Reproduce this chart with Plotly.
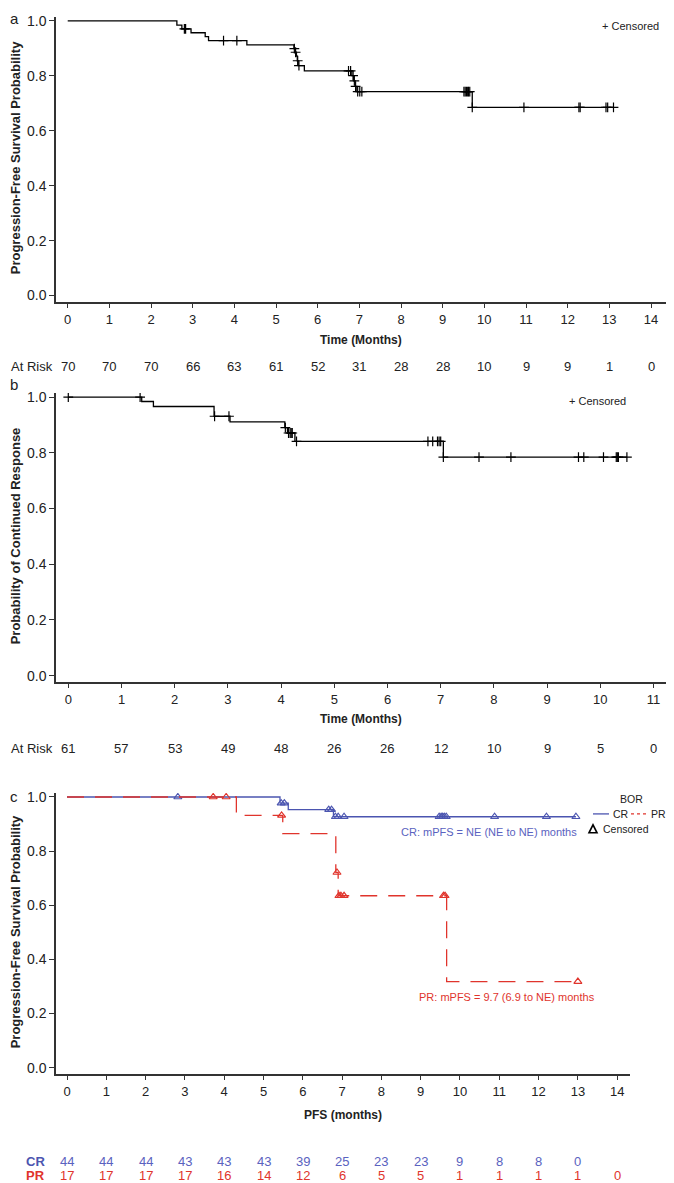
import plotly.graph_objects as go

W, H = 674, 1183
FONT = 'Liberation Sans, Arial, sans-serif'
INK = '#222222'
BLUE = '#4b55b0'
BLUE_TXT = '#5a62c0'
RED = '#e0342c'

# ---- panel a: progression-free survival ----
a_event_t = [2.62, 2.74, 2.96, 3.30, 3.38, 4.30, 5.43, 5.46, 5.49, 5.51, 5.53, 5.68,
             6.82, 6.86, 6.90, 6.94, 9.71]
a_event_s = [0.985, 0.971, 0.957, 0.943, 0.928, 0.913, 0.899, 0.886, 0.872, 0.855, 0.837, 0.818,
             0.801, 0.782, 0.762, 0.743, 0.685]
a_cens_t = [2.80, 2.83, 3.74, 4.06, 5.44, 5.47, 5.52, 5.55, 6.74, 6.79, 6.85, 6.88, 6.91,
            6.96, 7.01, 7.06, 9.51, 9.54, 9.57, 9.60, 9.62, 9.65, 9.71, 10.95, 12.27, 12.30,
            12.92, 12.96, 13.10]
a_end = 13.10
a_months = list(range(15))
a_risk = [70, 70, 70, 66, 63, 61, 52, 31, 28, 28, 10, 9, 9, 1, 0]

# ---- panel b: duration of response ----
b_event_t = [1.38, 1.60, 2.74, 3.04, 4.07, 4.12, 4.26, 7.05]
b_event_s = [0.984, 0.966, 0.931, 0.911, 0.890, 0.871, 0.841, 0.784]
b_cens_t = [0.0, 1.35, 2.75, 3.02, 4.08, 4.14, 4.17, 4.19, 4.21, 4.29, 6.76, 6.85, 6.94,
            6.97, 7.00, 7.05, 7.72, 8.32, 9.59, 9.69, 10.06, 10.30, 10.32, 10.34, 10.50]
b_end = 10.50
b_months = list(range(12))
b_risk = [61, 57, 53, 49, 48, 26, 26, 12, 10, 9, 5, 0]

# ---- panel c: PFS by best overall response ----
cr_event_t = [5.42, 5.63, 6.78]
cr_event_s = [0.977, 0.953, 0.927]
cr_cens_t = [2.82, 5.45, 5.53, 6.66, 6.73, 6.83, 6.90, 7.05, 9.47, 9.52, 9.56, 9.60, 9.65,
             10.88, 12.20, 12.95]
cr_end = 12.95
pr_event_t = [4.31, 5.49, 6.84, 6.90, 9.66]
pr_event_s = [0.932, 0.865, 0.721, 0.635, 0.318]
pr_cens_t = [3.72, 4.05, 5.46, 6.87, 6.92, 6.97, 7.05, 9.58, 9.62, 13.0]
pr_end = 13.0
c_months = list(range(15))
cr_risk = [44, 44, 44, 43, 43, 43, 39, 25, 23, 23, 9, 8, 8, 0]
pr_risk = [17, 17, 17, 17, 16, 14, 12, 6, 5, 5, 1, 1, 1, 1, 0]


def km_path(ev_t, ev_s, end):
    return [0] + ev_t + [end], [1.0] + ev_s + [ev_s[-1]]


def surv_at(t, ev_t, ev_s):
    s = 1.0
    for et, es in zip(ev_t, ev_s):
        if et <= t:
            s = es
    return s


def px(x):
    return x / W


def py(y):
    return 1 - y / H


fig = go.Figure()

def add_km(ev_t, ev_s, cens, end, xa, ya, color, dash='solid', symbol='cross-thin', size=7):
    xs, ys = km_path(ev_t, ev_s, end)
    fig.add_trace(go.Scatter(x=xs, y=ys, mode='lines', line_shape='hv',
                             line=dict(color=color, width=1.3, dash=dash),
                             xaxis=xa, yaxis=ya, hoverinfo='skip'))
    fig.add_trace(go.Scatter(x=cens, y=[surv_at(t, ev_t, ev_s) for t in cens], mode='markers',
                             marker=dict(symbol=symbol, size=size, color=color,
                                         line=dict(color=color, width=1.2)),
                             xaxis=xa, yaxis=ya, hoverinfo='skip'))

add_km(a_event_t, a_event_s, a_cens_t, a_end, 'x', 'y', 'black')
add_km(b_event_t, b_event_s, b_cens_t, b_end, 'x2', 'y2', 'black')
add_km(cr_event_t, cr_event_s, cr_cens_t, cr_end, 'x3', 'y3', BLUE, symbol='triangle-up-open', size=7)
add_km(pr_event_t, pr_event_s, pr_cens_t, pr_end, 'x3', 'y3', RED, dash='17px,11px',
       symbol='triangle-up-open', size=7)

axis_common = dict(showline=True, linecolor='#333333', linewidth=1.5, ticks='outside',
                   ticklen=5, tickwidth=1.2, tickcolor='#333333', showgrid=False, zeroline=False)
xfont = dict(tickfont=dict(family=FONT, size=13, color=INK))
yfont = dict(tickfont=dict(family=FONT, size=14, color=INK),
             tickvals=[0, 0.2, 0.4, 0.6, 0.8, 1.0], tickformat='.1f')

fig.update_layout(
    width=W, height=H, margin=dict(l=0, r=0, t=0, b=0),
    paper_bgcolor='white', plot_bgcolor='white', showlegend=False,
    xaxis=dict(domain=[px(48), px(658)], range=[-0.281, 14.36], anchor='y',
               tickvals=a_months, **xfont, **axis_common),
    yaxis=dict(domain=[py(291), py(5)], range=[-0.0217, 1.0145], anchor='x',
               **yfont, **axis_common),
    xaxis2=dict(domain=[px(48), px(658)], range=[-0.231, 11.235], anchor='y2',
                tickvals=b_months, **xfont, **axis_common),
    yaxis2=dict(domain=[py(673), py(383)], range=[-0.0214, 1.0143], anchor='x2',
                **yfont, **axis_common),
    xaxis3=dict(domain=[px(48), px(622)], range=[-0.280, 14.326], anchor='y3',
                tickvals=c_months, **xfont, **axis_common),
    yaxis3=dict(domain=[py(1067), py(785)], range=[-0.0221, 1.0147], anchor='x3',
                **yfont, **axis_common),
)

ann = []

def text(x, y, s, size=13, color=INK, bold=False, xref='paper', xanchor='center', angle=0):
    ann.append(dict(x=x if xref != 'paper' else px(x), y=py(y), xref=xref, yref='paper',
                    text=f'<b>{s}</b>' if bold else s, showarrow=False, xanchor=xanchor,
                    yanchor='middle', textangle=angle,
                    font=dict(family=FONT, size=size, color=color)))

# panel letters
text(0, 7, 'a', size=15, xanchor='left')
text(0, 374, 'b', size=15, xanchor='left')
text(0, 789, 'c', size=15, xanchor='left')

# y titles
text(7, 147, 'Progression-Free Survival Probability', size=13, bold=True, angle=-90)
text(7, 527, 'Probability of Continued Response', size=13, bold=True, angle=-90)
text(7, 925, 'Progression-Free Survival Probability', size=13, bold=True, angle=-90)

# x titles
text(353, 330, 'Time (Months)', size=12, bold=True)
text(353, 711, 'Time (Months)', size=12, bold=True)
text(335, 1109, 'PFS (months)', size=12, bold=True)

# censored notes
text(653, 14, '+ Censored', size=11, xanchor='right')
text(620, 391, '+ Censored', size=11, xanchor='right')

# at risk tables
text(1, 356, 'At Risk', xanchor='left')
for m, n in zip(a_months, a_risk):
    text(m, 356, str(n), xref='x')
text(1, 740, 'At Risk', xanchor='left')
for m, n in zip(b_months, b_risk):
    text(m, 740, str(n), xref='x2')
text(27, 1155, 'CR', color=BLUE, bold=True)
text(27, 1169, 'PR', color=RED, bold=True)
for m, n in zip(c_months, cr_risk):
    text(m, 1155, str(n), xref='x3', color=BLUE_TXT)
for m, n in zip(c_months, pr_risk):
    text(m, 1169, str(n), xref='x3', color=RED)

# median annotations
text(481, 824, 'CR: mPFS = NE (NE to NE) months', size=11, color=BLUE_TXT)
text(499, 990, 'PR: mPFS = 9.7 (6.9 to NE) months', size=11, color=RED)

# legend for panel c
text(623, 791, 'BOR', size=10.5)
text(603, 806, 'CR', size=10.5, xanchor='left')
text(641, 806, 'PR', size=10.5, xanchor='left')
text(593, 821, 'Censored', size=10.5, xanchor='left')

fig.update_layout(annotations=ann)

shapes = [
    dict(type='line', xref='paper', yref='paper', x0=px(585), x1=px(601), y0=py(806), y1=py(806),
         line=dict(color=BLUE, width=1.3)),
    dict(type='line', xref='paper', yref='paper', x0=px(623), x1=px(639), y0=py(806), y1=py(806),
         line=dict(color=RED, width=1.3, dash='dot')),
    dict(type='path', xref='paper', yref='paper',
         path=f'M {px(581)},{py(825)} L {px(589)},{py(825)} L {px(585)},{py(817)} Z',
         line=dict(color='black', width=1.6)),
]
fig.update_layout(shapes=shapes)

fig.write_html('out.html')
